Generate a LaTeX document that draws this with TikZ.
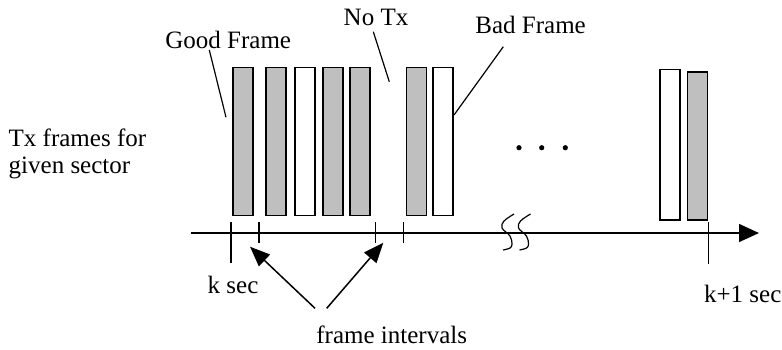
\documentclass[tikz,border=0pt]{standalone}
\usepackage{fontspec}
\setmainfont{Liberation Serif}
\usetikzlibrary{arrows.meta}
\begin{document}
\begin{tikzpicture}[x=0.5pt,y=-0.5pt,
  lbl/.style={anchor=base west,inner sep=0pt,font=\fontsize{12.5}{13.3}\selectfont},
  framebar/.style={draw=black,line width=0.8pt,inner sep=0pt,minimum width=10pt,minimum height=74pt},
  goodbar/.style={framebar,fill=gray!50},
  badbar/.style={framebar,fill=white},
  leader/.style={line width=0.6pt},
  axisline/.style={line width=0.75pt,-{Triangle[length=10pt,width=9pt]}},
  tickline/.style={line width=0.7pt},
  ptr/.style={line width=0.75pt,-{Triangle[length=10pt,width=8pt]}},
  brk/.style={line width=0.6pt},
  dot/.style={circle,fill=black,inner sep=0pt,minimum size=2.6pt}]
\useasboundingbox (0,0) rectangle (782,349);
% frames
\node[goodbar] (b1) at (243,141.5) {};
\node[goodbar] (b2) at (276.2,141.5) {};
\node[badbar]  (b3) at (304.8,141.5) {};
\node[goodbar] (b4) at (333,141.5) {};
\node[goodbar] (b5) at (360,141.5) {};
\node[goodbar] (b6) at (416.3,141.5) {};
\node[badbar]  (b7) at (443,141.5) {};
\node[badbar,minimum height=75.3pt]  (b8) at (670,144.7) {};
\node[goodbar,minimum height=74.2pt] (b9) at (697.3,145.9) {};
% axis
\coordinate (a0) at (190.7,233);
\coordinate (a1) at (759,233);
\draw[axisline] (a0) -- (a1);
% ticks
\coordinate (t1a) at (231,222); \coordinate (t1b) at (231,263);
\coordinate (t2a) at (259,222); \coordinate (t2b) at (259,243);
\coordinate (t3a) at (375.7,222); \coordinate (t3b) at (375.7,243);
\coordinate (t4a) at (403.3,222); \coordinate (t4b) at (403.3,243);
\coordinate (t5a) at (708.7,222); \coordinate (t5b) at (708.7,264);
\draw[tickline] (t1a) -- (t1b);
\draw[tickline] (t2a) -- (t2b);
\draw[tickline] (t3a) -- (t3b);
\draw[tickline] (t4a) -- (t4b);
\draw[tickline] (t5a) -- (t5b);
% break marks
\draw[brk] plot[smooth,tension=0.6] coordinates {(514,214) (504,221) (502,228) (510,236) (512,244) (510,248) (503,250)};
\draw[brk] plot[smooth,tension=0.6] coordinates {(530.5,214) (520.5,221) (518.5,228) (526.5,236) (528.5,244) (526.5,248) (519.5,250)};
% dots
\node[dot] (d1) at (519,147.7) {};
\node[dot] (d2) at (541.7,147.7) {};
\node[dot] (d3) at (565.3,147.7) {};
% labels
\node[lbl] (good) at (165,48.3) {Good Frame};
\node[lbl] (notx) at (343.3,25.7) {No Tx};
\node[lbl] (bad) at (475,33.3) {Bad Frame};
\node[lbl] (tx1) at (8.3,146.7) {Tx frames for};
\node[lbl] (tx2) at (8.3,173.3) {given sector};
\node[lbl] (ks) at (207.3,293.3) {k sec};
\node[lbl] (k1s) at (703.7,302.3) {k+1 sec};
\node[lbl] (fi) at (316,343.3) {frame intervals};
% leader lines
\coordinate (g0) at (209.3,50); \coordinate (g1) at (226,117.3);
\coordinate (n0) at (373.3,31.7); \coordinate (n1) at (389.3,81.7);
\coordinate (bd0) at (503.3,46.7); \coordinate (bd1) at (454,115);
\draw[leader] (g0) -- (g1);
\draw[leader] (n0) -- (n1);
\draw[leader] (bd0) -- (bd1);
% frame interval pointers
\coordinate (p0) at (315,308.3); \coordinate (p1) at (250,246.7);
\coordinate (q0) at (326.7,308.3); \coordinate (q1) at (383.3,242.7);
\draw[ptr] (p0) -- (p1);
\draw[ptr] (q0) -- (q1);
\end{tikzpicture}
\end{document}
